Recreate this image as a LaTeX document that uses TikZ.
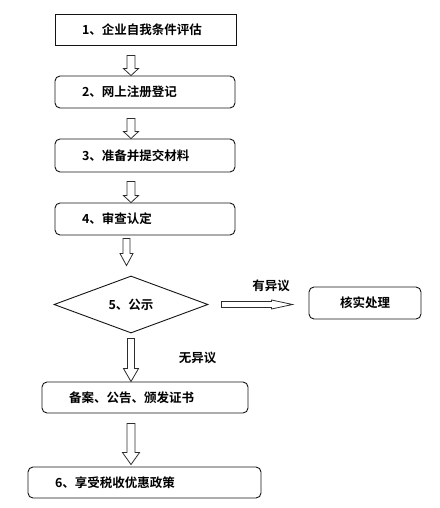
\documentclass[tikz,border=0pt]{standalone}
\usepackage{fontspec}
\newfontfamily\cjk{Noto Sans CJK SC}[BoldFont={Noto Sans CJK SC Bold}]
\usetikzlibrary{calc,shapes.geometric}
\definecolor{boxline}{RGB}{20,20,20}
\definecolor{arrowcol}{RGB}{45,45,45}
\tikzset{
  txt/.style={font=\cjk\bfseries\fontsize{12.5}{14}\selectfont},
  stepbox/.style 2 args={txt,draw=boxline,line width=0.9pt,rounded corners=5pt,
    align=left,inner xsep=27pt,inner ysep=0pt,text width=#1,minimum height=#2},
  decide/.style={txt,diamond,draw=boxline,line width=0.9pt,inner sep=0pt,
    minimum width=154pt,minimum height=57pt},
  blockarrow/.style n args={3}{draw=arrowcol,line width=0.8pt,to path={
    ($(\tikztostart)!#1!90:(\tikztotarget)$) --
    ($(\tikztotarget)!#3!(\tikztostart)!#1!-90:(\tikztostart)$) --
    ($(\tikztotarget)!#3!(\tikztostart)!#2!-90:(\tikztostart)$) --
    (\tikztotarget) --
    ($(\tikztotarget)!#3!(\tikztostart)!#2!90:(\tikztostart)$) --
    ($(\tikztotarget)!#3!(\tikztostart)!#1!90:(\tikztostart)$) --
    ($(\tikztostart)!#1!-90:(\tikztotarget)$) -- cycle}},
}
\begin{document}
\begin{tikzpicture}[x=1pt,y=-1pt]
  \useasboundingbox (0,0) rectangle (439,508);
  % steps
  \node[stepbox={127pt}{31pt},rounded corners=0pt] (b1) at (145.5,29.5) {1、企业自我条件评估};
  \node[stepbox={126pt}{32pt}] (b2) at (145,92) {2、网上注册登记};
  \node[stepbox={126pt}{33pt}] (b3) at (145,155.5) {3、准备并提交材料};
  \node[stepbox={126pt}{32pt}] (b4) at (145,219) {4、审查认定};
  \node[decide] (dia) at (131,304.5) {5、公示\hspace{15pt}};
  \node[stepbox={58pt}{32pt},align=center] (chk) at (365,303) {核实处理};
  \node[stepbox={152pt}{31pt}] (b5) at (145,397.5) {备案、公告、颁发证书};
  \node[stepbox={179pt}{31pt}] (b6) at (144.5,482.5) {6、享受税收优惠政策};
  \node[txt] (yes) at (271,286) {有异议};
  \node[txt] (no) at (197.5,358) {无异议};
  % hollow arrows
  \draw[blockarrow={4pt}{7.5pt}{7pt}] ($(b1.south -| dia.north)+(0,10)$) to (b2.north -| dia.north);
  \draw[blockarrow={4pt}{7.5pt}{7pt}] ($(b2.south -| dia.north)+(0,10)$) to (b3.north -| dia.north);
  \draw[blockarrow={4pt}{7.5pt}{7pt}] ($(b3.south -| dia.north)+(0,9)$) to (b4.north -| dia.north);
  \draw[blockarrow={3.5pt}{6.5pt}{12pt}] ($(b4.south -| dia.north)+(-4.5,3)$) to ($(dia.north)+(-4.5,-10)$);
  \draw[blockarrow={3.5pt}{7.5pt}{13pt}] ($(dia.south)+(0,5)$) to (b5.north -| dia.south);
  \draw[blockarrow={4pt}{8.5pt}{12pt}] ($(b5.south -| dia.south)+(0,10)$) to ($(b6.north -| dia.south)+(0,-2)$);
  \draw[blockarrow={3pt}{4.5pt}{21pt}] ($(dia.east)+(13,0)$) to ($(chk.west |- dia.east)+(-16,0)$);
\end{tikzpicture}
\end{document}
